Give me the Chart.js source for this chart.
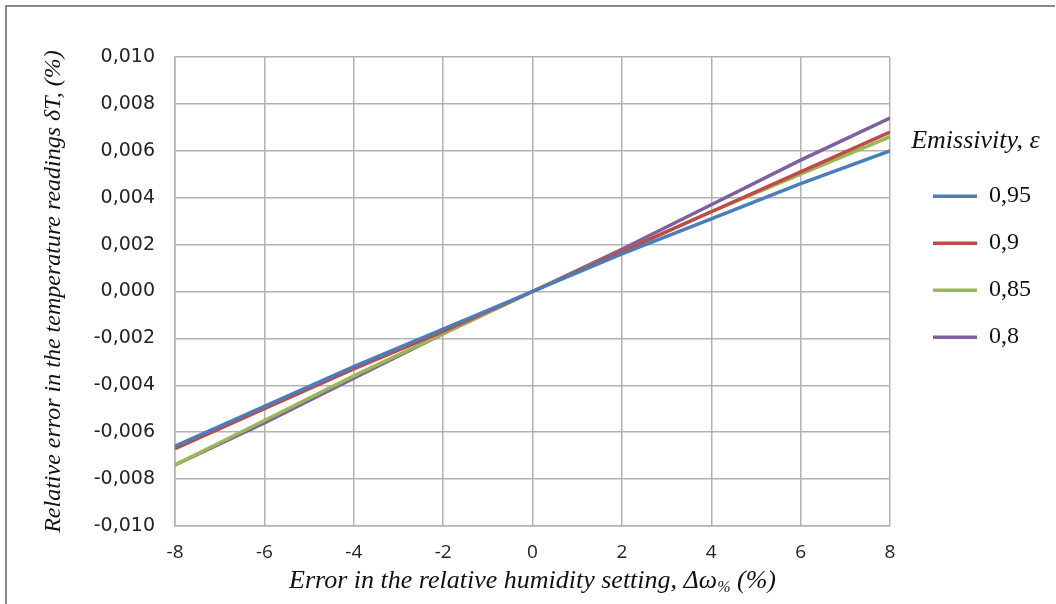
<!DOCTYPE html>
<html>
<head>
<meta charset="utf-8">
<script src="https://cdn.jsdelivr.net/npm/chart.js@4.4.1/dist/chart.umd.min.js"></script>
<style>
  html, body { margin: 0; padding: 0; background: #fff; }
  #wrap { width: 1056px; height: 604px; }
</style>
</head>
<body>
<div id="wrap"><canvas id="chart"></canvas></div>
<script>
// humidity setting error, %
const xValues = [-8, -6, -4, -2, 0, 2, 4, 6, 8];
// relative error dT for each emissivity
const e095 = [-0.0066, -0.0049, -0.0032, -0.0016, 0, 0.0016, 0.0031, 0.0046, 0.0060];
const e090 = [-0.0067, -0.0050, -0.0033, -0.0017, 0, 0.0017, 0.0034, 0.0051, 0.0068];
const e085 = [-0.0074, -0.0055, -0.0036, -0.0018, 0, 0.0017, 0.0034, 0.0050, 0.0066];
const e080 = [-0.0074, -0.0056, -0.0037, -0.0018, 0, 0.0018, 0.0037, 0.0056, 0.0074];
const seriesNames = ["0,95", "0,9", "0,85", "0,8"];
const seriesColors = ["#4a7ebb", "#be4b48", "#98b954", "#7d60a0"];

const points = ys => ys.map((y, i) => ({ x: xValues[i], y }));

// frame lines + x title with subscript
const extras = {
  id: "extras",
  beforeDraw(chart) {
    const c = chart.ctx;
    c.save();
    c.strokeStyle = "#8a8a8a";
    c.lineWidth = 2;
    c.beginPath();
    c.moveTo(6, 604);
    c.lineTo(6, 6);
    c.lineTo(1055, 6);
    c.stroke();
    c.restore();
  },
  afterDraw(chart) {
    const c = chart.ctx;
    const area = chart.chartArea;
    const big = "italic 26px 'Liberation Serif'";
    const small = "italic 16px 'Liberation Serif'";
    const p1 = "Error in the relative humidity setting, \u0394\u03c9";
    const p2 = "%";
    const p3 = " (%)";
    c.save();
    c.fillStyle = "#111";
    c.textBaseline = "alphabetic";
    c.font = big;
    const w1 = c.measureText(p1).width, w3 = c.measureText(p3).width;
    c.font = small;
    const w2 = c.measureText(p2).width;
    let x = (area.left + area.right) / 2 - (w1 + w2 + w3) / 2;
    const y = 588;
    c.font = big; c.fillText(p1, x, y); x += w1;
    c.font = small; c.fillText(p2, x, y + 4); x += w2;
    c.font = big; c.fillText(p3, x, y);
    c.restore();
  }
};

// move the legend block right of its layout slot
const legendShift = {
  id: "legendShift",
  afterLayout(chart) {
    const lg = chart.legend;
    lg.left += 20;
    lg.right += 20;
  }
};

new Chart(document.getElementById("chart"), {
  type: "line",
  data: {
    datasets: [e095, e090, e085, e080].map((ys, i) => ({
      label: seriesNames[i],
      data: points(ys),
      borderColor: seriesColors[i],
      backgroundColor: seriesColors[i],
      borderWidth: 3.5,
      pointRadius: 0,
      tension: 0
    }))
  },
  options: {
    responsive: true,
    maintainAspectRatio: false,
    animation: false,
    layout: { padding: { top: 57, right: 35, bottom: 0, left: 20 } },
    plugins: {
      tooltip: { enabled: false },
      legend: {
        position: "right",
        align: "start",
        title: {
          display: true,
          text: "Emissivity, \u03b5",
          color: "#111",
          font: { family: "'Liberation Serif'", size: 26, style: "italic" },
          padding: { top: 71, bottom: 2 }
        },
        labels: {
          color: "#111",
          font: { family: "'Liberation Serif'", size: 24 },
          usePointStyle: true,
          pointStyle: "line",
          pointStyleWidth: 44,
          padding: 23
        }
      }
    },
    scales: {
      x: {
        type: "linear",
        min: -8,
        max: 8,
        afterFit: s => { s.height = 78; },
        ticks: {
          stepSize: 2,
          padding: 15,
          color: "#222",
          font: { family: "'Open Sans'", size: 19 }
        },
        grid: { color: "#b2b2b2", lineWidth: 1.5, drawTicks: false },
        border: { color: "#b2b2b2", width: 1.5 }
      },
      y: {
        min: -0.01,
        max: 0.01,
        afterFit: s => { s.width = 155; },
        ticks: {
          stepSize: 0.002,
          padding: 20,
          color: "#222",
          font: { family: "'DejaVu Sans'", size: 19 },
          callback: v => v.toFixed(3).replace(".", ",")
        },
        grid: { color: "#b2b2b2", lineWidth: 1.5, drawTicks: false },
        border: { color: "#b2b2b2", width: 1.5 },
        title: {
          display: true,
          text: "Relative error in the temperature readings \u03b4T, (%)",
          color: "#111",
          font: { family: "'Liberation Serif'", size: 24, style: "italic" },
          padding: { top: 19, bottom: 0 }
        }
      }
    }
  },
  plugins: [extras, legendShift]
});
</script>
</body>
</html>
